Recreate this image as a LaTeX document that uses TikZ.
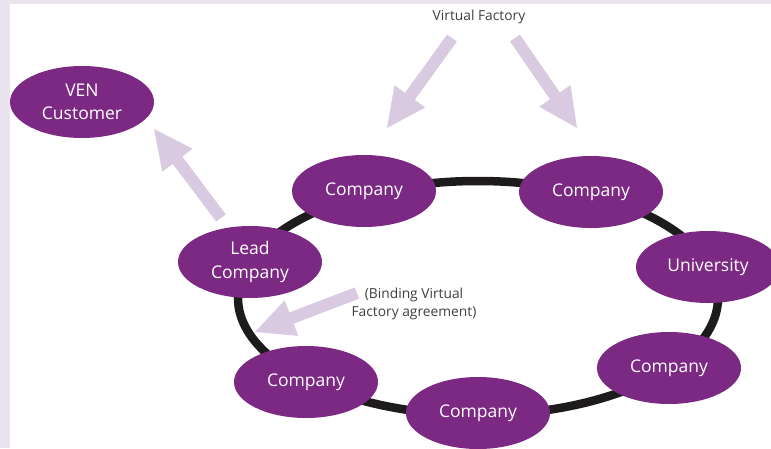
\documentclass[tikz,border=0pt]{standalone}
\usepackage{fontspec}
\setmainfont{Open Sans}
\usetikzlibrary{shapes.geometric,calc}
\definecolor{vpurple}{RGB}{123,41,131}
\definecolor{varrow}{RGB}{217,202,225}
\definecolor{vstrip}{RGB}{233,228,240}
\definecolor{vring}{RGB}{30,27,28}
\definecolor{vtext}{RGB}{64,64,64}
\tikzset{
  party/.style={ellipse, fill=vpurple, text=white, minimum width=144pt, minimum height=72pt,
    inner sep=0pt, align=center, font=\fontsize{17.5}{23.5}\selectfont},
  smalltext/.style={text=vtext, align=center, font=\fontsize{13.8}{17.5}\selectfont},
  arrowfill/.style={fill=varrow},
}
\newcommand\blockarrow[2]{%
  \path let \p1=(#1), \p2=(#2) in \pgfextra{%
    \pgfmathsetmacro\arang{atan2(\y2-\y1,\x2-\x1)}%
    \pgfmathsetmacro\arlen{veclen(\x2-\x1,\y2-\y1)}%
    \xdef\ArAng{\arang}\xdef\ArLen{\arlen}};
  \begin{scope}[shift={(#1)}, rotate=\ArAng]
    \fill[arrowfill] (0pt,6pt) -- (\ArLen pt-39pt,6pt) -- (\ArLen pt-39pt,19pt) -- (\ArLen pt,0pt)
      -- (\ArLen pt-39pt,-19pt) -- (\ArLen pt-39pt,-6pt) -- (0pt,-6pt) -- cycle;
  \end{scope}}
\begin{document}
\begin{tikzpicture}[x=1pt,y=-1pt]
\useasboundingbox (0,0) rectangle (771,448);
\fill[vstrip] (0,0) rectangle (771,448);
\fill[white] (9.5,3.5) rectangle (771,448);
% ring
\draw[vring, line width=8.5pt] (478,298) ellipse [x radius=240, y radius=117];
% nodes
\node[party] (ven) at (82,102) {VEN\\Customer};
\node[party] (lead) at (250,262) {Lead\\Company};
\node[party] (c1) at (364,191) {Company};
\node[party] (c2) at (591,192) {Company};
\node[party] (uni) at (708,267) {University};
\node[party] (c3) at (669,368) {Company};
\node[party] (c4) at (478,413) {Company};
\node[party] (c5) at (306,382) {Company};
% texts
\node[smalltext] (vf) at (479,17) {Virtual Factory};
\node[smalltext] (bind) at (414,304) {(Binding Virtual\\Factory agreement)};
% arrows
\coordinate (a1s) at (452,38); \coordinate (a1e) at (387,128);
\coordinate (a2s) at (515,38); \coordinate (a2e) at (577,128);
\coordinate (a3s) at (221,218); \coordinate (a3e) at (154,129);
\coordinate (a4s) at (357,293); \coordinate (a4e) at (255,332);
\blockarrow{a1s}{a1e}
\blockarrow{a2s}{a2e}
\blockarrow{a3s}{a3e}
\blockarrow{a4s}{a4e}
\end{tikzpicture}
\end{document}
